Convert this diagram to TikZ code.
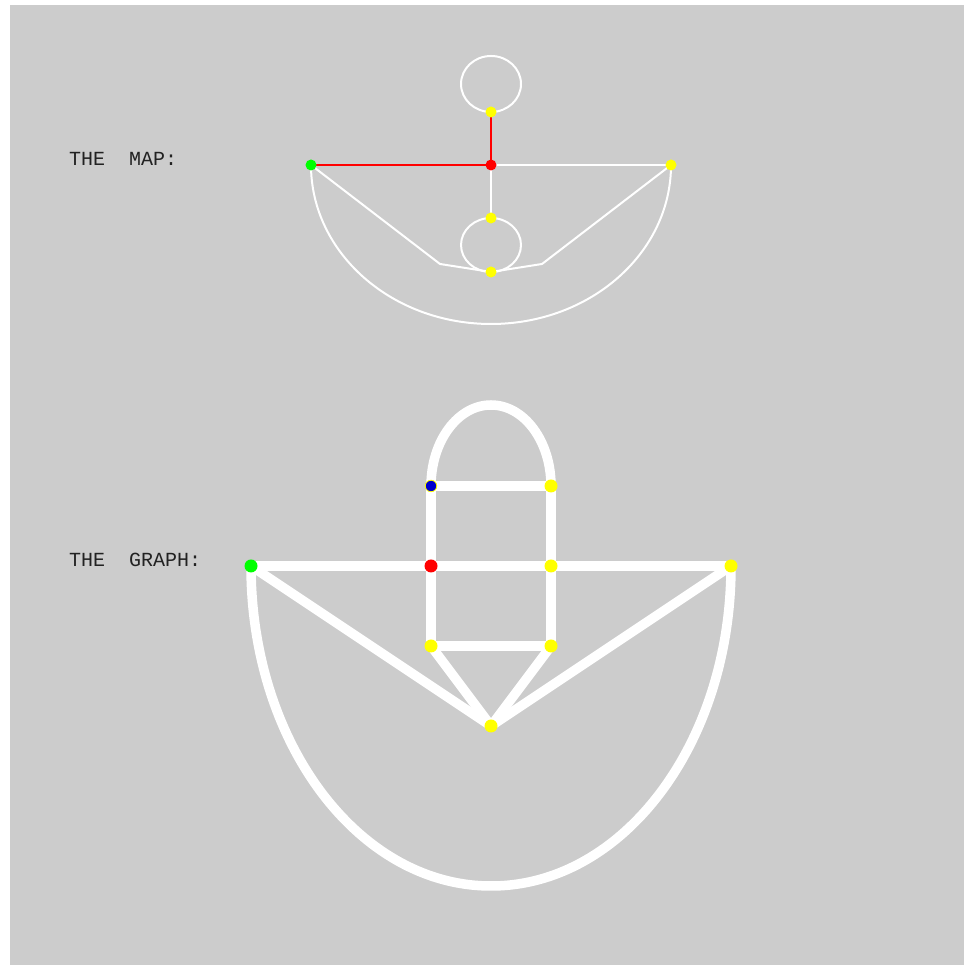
\documentclass[tikz,border=0pt]{standalone}
\usepackage{fontspec}
\newfontfamily\labelfont{Liberation Mono}
\pgfdeclarelayer{panellayer}
\pgfdeclarelayer{bg}
\pgfsetlayers{panellayer,bg,main}
\definecolor{panel}{HTML}{CCCCCC}
\definecolor{dotyellow}{HTML}{FFFF00}
\definecolor{dotred}{HTML}{FF0000}
\definecolor{dotgreen}{HTML}{00FF00}
\definecolor{dotblue}{HTML}{0000CC}
\definecolor{ink}{HTML}{222222}
\tikzset{
  mapdot/.style={circle,inner sep=0pt,minimum size=11pt},
  graphdot/.style={circle,inner sep=0pt,minimum size=13pt},
  mapline/.style={white,line width=2pt},
  maproute/.style={dotred,line width=2.5pt},
  graphline/.style={white,line width=9.5pt},
  caption/.style={anchor=base west,inner sep=0pt,text=ink,font=\labelfont\fontsize{20}{20}\selectfont}
}
\begin{document}
\begin{tikzpicture}[x=1pt,y=1pt]
\useasboundingbox (0,0) rectangle (964,965);
\begin{pgfonlayer}{panellayer}
  \fill[panel] (10,0) rectangle (964,960);
\end{pgfonlayer}

% captions
\node[caption] (tmap) at (69,799) {THE\ \ MAP:};
\node[caption] (tgraph) at (69,398.5) {THE\ \ GRAPH:};

% ---------- the map ----------
\node[mapdot,fill=dotred] (mr) at (491,800) {};
\node[mapdot,fill=dotyellow] (mt) at (491,853) {};
\node[mapdot,fill=dotgreen] (mg) at (311,800) {};
\node[mapdot,fill=dotyellow] (mright) at (671,800) {};
\node[mapdot,fill=dotyellow] (mm) at (491,747) {};
\node[mapdot,fill=dotyellow] (mb) at (491,693) {};
\coordinate (bl) at (440,701);
\coordinate (br) at (542,701);

\begin{pgfonlayer}{bg}
  \draw[mapline] (mt.center) arc[start angle=-90,end angle=270,x radius=30,y radius=28];
  \draw[mapline] (mm.center) arc[start angle=90,end angle=450,x radius=30,y radius=27];
  \draw[mapline] (mr.center) -- (mright.center);
  \draw[mapline] (mr.center) -- (mm.center);
  \draw[mapline] (mg.center) -- (bl) -- (mb.center) -- (br) -- (mright.center);
  \draw[mapline] (mg.center) arc[start angle=180,end angle=360,x radius=180,y radius=159];
  \draw[maproute] (mt.center) -- (mr.center) -- (mg.center);
\end{pgfonlayer}

% ---------- the graph ----------
\node[graphdot,fill=dotgreen] (gg) at (251,399) {};
\node[graphdot,fill=dotred] (gr) at (431,399) {};
\node[graphdot,fill=dotyellow] (gm) at (551,399) {};
\node[graphdot,fill=dotyellow] (gright) at (731,399) {};
\node[graphdot,fill=dotblue,draw=dotyellow,line width=0.8pt,minimum size=11.5pt] (gb) at (431,479) {};
\node[graphdot,fill=dotyellow] (gtr) at (551,479) {};
\node[graphdot,fill=dotyellow] (gll) at (431,319) {};
\node[graphdot,fill=dotyellow] (glr) at (551,319) {};
\node[graphdot,fill=dotyellow] (gbot) at (491,239) {};

\begin{pgfonlayer}{bg}
  \draw[graphline] (gb.center) arc[start angle=180,end angle=0,x radius=60,y radius=81];
  \draw[graphline] (gb.center) -- (gtr.center);
  \draw[graphline] (gg.center) -- (gr.center) -- (gm.center) -- (gright.center);
  \draw[graphline] (gb.center) -- (gr.center) -- (gll.center);
  \draw[graphline] (gtr.center) -- (gm.center) -- (glr.center);
  \draw[graphline] (gll.center) -- (glr.center);
  \draw[graphline] (gll.center) -- (gbot.center);
  \draw[graphline] (glr.center) -- (gbot.center);
  \draw[graphline] (gg.center) -- (gbot.center);
  \draw[graphline] (gright.center) -- (gbot.center);
  \draw[graphline] (gg.center) arc[start angle=180,end angle=360,x radius=240,y radius=320];
\end{pgfonlayer}
\end{tikzpicture}
\end{document}
